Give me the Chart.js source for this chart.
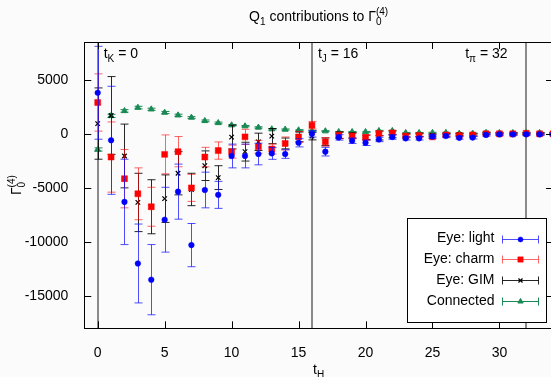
<!DOCTYPE html>
<html>
<head>
<meta charset="utf-8">
<script src="https://cdn.jsdelivr.net/npm/chart.js@4.4.0/dist/chart.umd.min.js"></script>
<style>
  html, body { margin: 0; padding: 0; background: #fbfbfb; overflow: hidden; }
  #wrap { width: 560px; height: 377px; }
</style>
</head>
<body>
<div id="wrap"><canvas id="myChart" width="560" height="377"></canvas></div>
<script>
const tH = [0, 1, 2, 3, 4, 5, 6, 7, 8, 9, 10, 11, 12, 13, 14, 15, 16, 17, 18, 19, 20, 21, 22, 23, 24, 25, 26, 27, 28, 29, 30, 31, 32, 33, 34];

const lightY = [3800, -600, -6300, -12000, -13500, -7950, -5350, -10300, -5200, -5650, -2050, -2050, -1870, -1810, -1870, -830, 0, -1650, -330, -640, -830, -520, -300, -420, -420, -250, -200, -370, -350, -100, -50, -50, -50, -50, -50];
const lightErr = [4300, 5000, 3950, 3650, 3250, 3000, 2550, 2000, 1650, 1250, 1100, 1100, 1000, 550, 400, 380, 300, 400, 250, 250, 250, 200, 200, 150, 150, 150, 150, 120, 120, 100, 100, 100, 100, 100, 100];

const charmY = [2900, -2150, -4150, -5550, -6750, -1900, -1650, -5000, -2150, -1550, -1650, -280, -1200, -1410, -890, -280, 800, -740, -150, -210, -330, 35, 90, -200, -150, -280, -100, -150, -100, 0, 0, 0, 50, 0, 0];
const charmErr = [2650, 3250, 2700, 2400, 1800, 1800, 1400, 1250, 900, 800, 600, 700, 600, 460, 600, 500, 350, 400, 300, 250, 250, 200, 200, 150, 150, 150, 120, 120, 100, 100, 100, 80, 80, 80, 80];

const gimY = [950, 1700, -2050, -6350, -6750, -6000, -3650, -5150, -2950, -4050, -300, -1650, -740, -210, -890, -280, -210, -740, -120, -150, -330, -370, -210, -150, -100, -150, -100, -50, -100, 50, 0, 0, 0, 0, 0];
const gimErr = [3300, 3600, 2950, 2700, 2500, 2200, 2000, 1500, 1370, 1100, 1100, 870, 800, 700, 500, 450, 350, 350, 300, 250, 200, 200, 150, 150, 150, 120, 120, 100, 100, 100, 80, 80, 80, 80, 80];

const connY = [-1450, 1660, 2120, 2430, 2275, 1970, 1720, 1510, 1200, 1010, 800, 710, 590, 430, 400, 340, 280, 250, 180, 180, 180, 280, 280, 90, 90, 100, 100, 35, 35, 100, 90, 90, 100, 90, 80];
const connErr = [150, 150, 120, 120, 100, 100, 100, 80, 80, 80, 70, 60, 60, 60, 50, 50, 50, 40, 40, 40, 40, 40, 40, 40, 40, 40, 40, 40, 40, 40, 40, 40, 40, 40, 40];

const xTicks = [0, 5, 10, 15, 20, 25, 30];
const yTicks = [-15000, -10000, -5000, 0, 5000];
const markerLines = [0, 16, 32];

const FONT = '"Liberation Sans", Arial, sans-serif';

function pts(ys) {
  return ys.map((v, i) => ({ x: tH[i], y: v }));
}

// text with sub/superscripts, gnuplot enhanced style
function drawRich(ctx, parts, x, y, measureOnly) {
  let cx = x;
  let stackW = 0;
  parts.forEach(p => {
    const small = p.k === 'sub' || p.k === 'sup';
    ctx.font = (small ? '10px ' : '14px ') + FONT;
    const w = ctx.measureText(p.t).width;
    const dy = p.k === 'sub' ? 4 : (p.k === 'sup' ? -6 : 0);
    if (!measureOnly) ctx.fillText(p.t, cx, y + dy);
    if (p.keep) {
      stackW = w;
    } else {
      cx += Math.max(w, stackW);
      stackW = 0;
    }
  });
  return cx - x;
}

const gamma = [{ t: 'Γ' }, { t: '0', k: 'sub', keep: true }, { t: '(4)', k: 'sup' }];

const errorBars = {
  id: 'errorBars',
  beforeDatasetDraw(chart, args) {
    const ds = chart.data.datasets[args.index];
    const { ctx, chartArea } = chart;
    const x = chart.scales.x, y = chart.scales.y;
    ctx.save();
    ctx.beginPath();
    ctx.rect(chartArea.left, chartArea.top, chartArea.width, chartArea.height);
    ctx.clip();
    ctx.strokeStyle = ds.errColor;
    ctx.lineWidth = 1;
    ds.data.forEach((p, i) => {
      const e = ds.errors[i];
      const px = Math.round(x.getPixelForValue(p.x)) + 0.5;
      const top = y.getPixelForValue(p.y + e);
      const bot = y.getPixelForValue(p.y - e);
      ctx.beginPath();
      ctx.moveTo(px, top); ctx.lineTo(px, bot);
      ctx.moveTo(px - 4, top); ctx.lineTo(px + 4, top);
      ctx.moveTo(px - 4, bot); ctx.lineTo(px + 4, bot);
      ctx.stroke();
    });
    ctx.restore();
  }
};

const decorations = {
  id: 'decorations',
  beforeDatasetsDraw(chart) {
    const { ctx, chartArea: a } = chart;
    const x = chart.scales.x;
    ctx.save();
    ctx.strokeStyle = '#8a8a8a';
    ctx.lineWidth = 2;
    markerLines.forEach(t => {
      const px = Math.round(x.getPixelForValue(t));
      ctx.beginPath();
      ctx.moveTo(px, a.top); ctx.lineTo(px, a.bottom);
      ctx.stroke();
    });
    ctx.restore();
  },
  afterDatasetsDraw(chart) {
    const { ctx, chartArea: a } = chart;
    const x = chart.scales.x, y = chart.scales.y;
    ctx.save();
    // frame
    ctx.strokeStyle = '#000';
    ctx.lineWidth = 1;
    ctx.strokeRect(Math.round(a.left) + 0.5, Math.round(a.top) + 0.5, Math.round(a.width), Math.round(a.height));
    // inward ticks
    ctx.beginPath();
    xTicks.forEach(t => {
      const px = Math.round(x.getPixelForValue(t)) + 0.5;
      ctx.moveTo(px, a.bottom); ctx.lineTo(px, a.bottom - 7);
      ctx.moveTo(px, a.top); ctx.lineTo(px, a.top + 7);
    });
    yTicks.forEach(v => {
      const py = Math.round(y.getPixelForValue(v)) + 0.5;
      ctx.moveTo(a.left, py); ctx.lineTo(a.left + 7, py);
      ctx.moveTo(a.right, py); ctx.lineTo(a.right - 7, py);
    });
    ctx.stroke();

    ctx.fillStyle = '#000';
    ctx.textBaseline = 'alphabetic';
    ctx.textAlign = 'left';
    // time labels
    drawRich(ctx, [{ t: 't' }, { t: 'K', k: 'sub' }, { t: ' = 0' }], x.getPixelForValue(0) + 6, a.top + 16);
    drawRich(ctx, [{ t: 't' }, { t: 'J', k: 'sub' }, { t: ' = 16' }], x.getPixelForValue(16) + 6, a.top + 16);
    drawRich(ctx, [{ t: 't' }, { t: 'π', k: 'sub' }, { t: ' = 32' }], x.getPixelForValue(32) - 61, a.top + 16);

    // title
    const titleParts = [{ t: 'Q' }, { t: '1', k: 'sub' }, { t: ' contributions to ' }].concat(gamma);
    const cx = (a.left + a.right) / 2;
    const tw = drawRich(ctx, titleParts, 0, 0, true);
    drawRich(ctx, titleParts, cx - tw / 2, 21);

    // x axis title
    const xp = [{ t: 't' }, { t: 'H', k: 'sub' }];
    const xw = drawRich(ctx, xp, 0, 0, true);
    drawRich(ctx, xp, cx - xw / 2, 374);

    // y axis title
    ctx.save();
    ctx.translate(21, (a.top + a.bottom) / 2);
    ctx.rotate(-Math.PI / 2);
    const yw = drawRich(ctx, gamma, 0, 0, true);
    drawRich(ctx, gamma, -yw / 2, 0);
    ctx.restore();

    // legend box
    const bw = 139, bh = 104;
    const bx = Math.round(a.right - 7 - bw) + 0.5, by = Math.round(a.bottom - 6 - bh) + 0.5;
    ctx.fillStyle = '#ffffff';
    ctx.fillRect(bx, by, bw, bh);
    ctx.strokeStyle = '#000';
    ctx.strokeRect(bx, by, bw, bh);
    chart.data.datasets.forEach((ds, i) => {
      const ry = by + 20 + i * 20.8;
      ctx.fillStyle = '#000';
      ctx.font = '14px ' + FONT;
      ctx.textAlign = 'right';
      ctx.textBaseline = 'middle';
      ctx.fillText(ds.label, bx + 87, ry);
      const l = bx + 95, r = bx + 131, m = (l + r) / 2;
      const yy = Math.round(ry) + 0.5;
      ctx.strokeStyle = ds.errColor;
      ctx.lineWidth = 1;
      ctx.beginPath();
      ctx.moveTo(l, yy); ctx.lineTo(r, yy);
      ctx.moveTo(l, yy - 4); ctx.lineTo(l, yy + 4);
      ctx.moveTo(r, yy - 4); ctx.lineTo(r, yy + 4);
      ctx.stroke();
      ctx.fillStyle = ds.backgroundColor;
      ctx.strokeStyle = ds.borderColor;
      ctx.lineWidth = ds.borderWidth;
      Chart.helpers.drawPoint(ctx, {
        pointStyle: ds.pointStyle, radius: ds.pointRadius * 0.9, rotation: 0, borderWidth: ds.borderWidth
      }, m, yy);
    });
    ctx.restore();
  }
};

const ctx = document.getElementById('myChart').getContext('2d');

new Chart(ctx, {
  type: 'scatter',
  data: {
    datasets: [
      {
        label: 'Eye: light',
        data: pts(lightY),
        errors: lightErr,
        errColor: 'rgba(20, 20, 255, 0.75)',
        pointStyle: 'circle',
        pointRadius: 2.8,
        backgroundColor: '#0000ff',
        borderColor: '#0000ff',
        borderWidth: 0.5,
      },
      {
        label: 'Eye: charm',
        data: pts(charmY),
        errors: charmErr,
        errColor: 'rgba(255, 0, 0, 0.6)',
        pointStyle: 'rect',
        pointRadius: 4.2,
        backgroundColor: '#ff0000',
        borderColor: '#ff0000',
        borderWidth: 0.5,
      },
      {
        label: 'Eye: GIM',
        data: pts(gimY),
        errors: gimErr,
        errColor: 'rgba(0, 0, 0, 0.85)',
        pointStyle: 'crossRot',
        pointRadius: 3.2,
        backgroundColor: '#000000',
        borderColor: '#000000',
        borderWidth: 1.2,
      },
      {
        label: 'Connected',
        data: pts(connY),
        errors: connErr,
        errColor: '#1a8a55',
        pointStyle: 'triangle',
        pointRadius: 3.4,
        backgroundColor: '#1a8a55',
        borderColor: '#1a8a55',
        borderWidth: 1,
      },
    ],
  },
  options: {
    responsive: false,
    animation: false,
    layout: { padding: { left: 0, right: 7, top: 42, bottom: 0 } },
    plugins: {
      legend: { display: false },
      title: { display: false },
      tooltip: { enabled: false },
    },
    scales: {
      x: {
        type: 'linear',
        min: -1,
        max: 34,
        afterFit: s => { s.height = 48.7; },
        afterBuildTicks: s => { s.ticks = xTicks.map(v => ({ value: v })); },
        grid: { display: false },
        border: { display: false },
        ticks: { color: '#000', font: { family: FONT, size: 14 }, padding: 8, maxRotation: 0, callback: v => String(v) },
      },
      y: {
        min: -18000,
        max: 8500,
        afterFit: s => { s.width = 84.3; },
        afterBuildTicks: s => { s.ticks = yTicks.map(v => ({ value: v })); },
        grid: { display: false },
        border: { display: false },
        ticks: { color: '#000', font: { family: FONT, size: 14 }, padding: 8, callback: v => String(v) },
      },
    },
  },
  plugins: [errorBars, decorations],
});
</script>
</body>
</html>
